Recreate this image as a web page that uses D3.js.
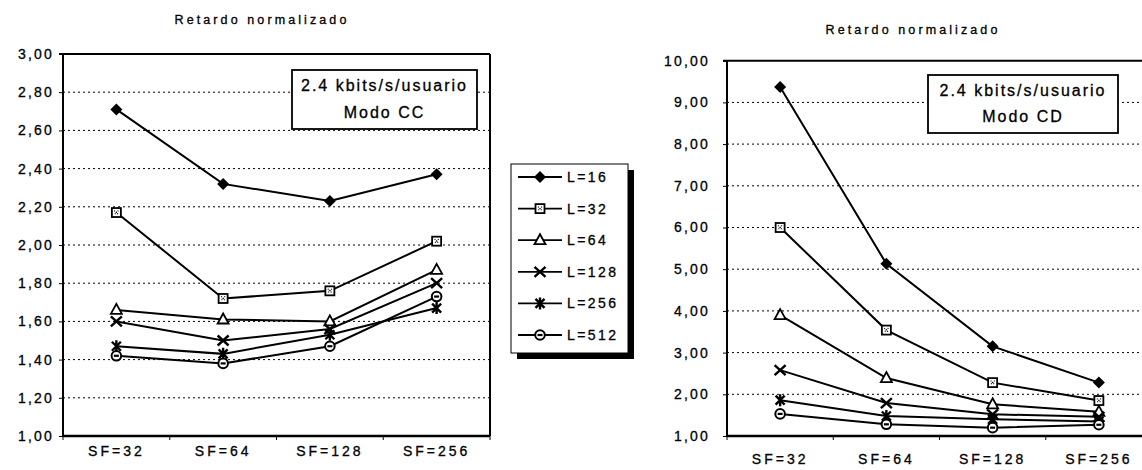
<!DOCTYPE html>
<html>
<head>
<meta charset="utf-8">
<script src="https://cdn.jsdelivr.net/npm/d3@7"></script>
<style>
  html, body { margin: 0; padding: 0; background: #fff; }
  svg { display: block; font-family: "Liberation Sans", Arial, sans-serif; }
  svg text { stroke: #000; stroke-width: 0.3px; fill: #000; }
</style>
</head>
<body>
<svg id="chart" width="1142" height="470"></svg>
<script>
// Spreading factor categories shared by both panels
const categories = ["SF=32", "SF=64", "SF=128", "SF=256"];
const seriesNames = ["L=16", "L=32", "L=64", "L=128", "L=256", "L=512"];
const markerKinds = ["diamond", "square", "triangle", "cross", "star", "circle"];

// Normalized delay, mode CC
const ccL16  = [2.71, 2.32, 2.23, 2.37];
const ccL32  = [2.17, 1.72, 1.76, 2.02];
const ccL64  = [1.66, 1.61, 1.60, 1.87];
const ccL128 = [1.60, 1.50, 1.56, 1.80];
const ccL256 = [1.47, 1.43, 1.53, 1.67];
const ccL512 = [1.42, 1.38, 1.47, 1.73];

// Normalized delay, mode CD
const cdL16  = [9.37, 5.13, 3.15, 2.28];
const cdL32  = [6.00, 3.54, 2.28, 1.85];
const cdL64  = [3.90, 2.39, 1.76, 1.58];
const cdL128 = [2.58, 1.79, 1.52, 1.46];
const cdL256 = [1.86, 1.48, 1.40, 1.35];
const cdL512 = [1.53, 1.28, 1.20, 1.27];

// Y tick values for each panel
const ccTicks = [1.0, 1.2, 1.4, 1.6, 1.8, 2.0, 2.2, 2.4, 2.6, 2.8, 3.0];
const cdTicks = [1, 2, 3, 4, 5, 6, 7, 8, 9, 10];

const titleText = "Retardo normalizado";
const rateText = "2.4 kbits/s/usuario";
const modeCC = "Modo CC";
const modeCD = "Modo CD";

const svg = d3.select("#chart");
const fmt = v => d3.format(".2f")(v).replace(".", ",");

function drawMarker(g, kind, cx, cy) {
  const m = g.append("g").attr("transform", `translate(${cx},${cy})`);
  if (kind === "diamond") {
    m.append("path").attr("d", "M0,-6L6,0L0,6L-6,0Z").attr("fill", "#000");
  } else if (kind === "square") {
    m.append("rect").attr("x", -4.5).attr("y", -4.5).attr("width", 9).attr("height", 9)
      .attr("fill", "#fff").attr("stroke", "#000").attr("stroke-width", 1.8);
    m.append("path").attr("d", "M-2,-2L2,2M2,-2L-2,2")
      .attr("stroke", "#000").attr("stroke-width", 1.1).attr("stroke-dasharray", "1,1");
  } else if (kind === "triangle") {
    m.append("path").attr("d", "M0,-6L5.5,4L-5.5,4Z")
      .attr("fill", "#fff").attr("stroke", "#000").attr("stroke-width", 1.8);
  } else if (kind === "cross") {
    m.append("path").attr("d", "M-5.5,-5L5.5,5M5.5,-5L-5.5,5")
      .attr("stroke", "#000").attr("stroke-width", 2.4);
  } else if (kind === "star") {
    m.append("path").attr("d", "M-4.5,-4.5L4.5,4.5M4.5,-4.5L-4.5,4.5M0,-6L0,6")
      .attr("stroke", "#000").attr("stroke-width", 2.4);
  } else if (kind === "circle") {
    m.append("circle").attr("r", 4.8)
      .attr("fill", "#fff").attr("stroke", "#000").attr("stroke-width", 2);
    m.append("path").attr("d", "M-2.5,0L2.5,0").attr("stroke", "#000").attr("stroke-width", 2.2);
  }
}

function drawPanel(opt) {
  const { left, right, top, bottom, domain, ticks, series } = opt;
  const g = svg.append("g");

  const x = d3.scaleBand().domain(categories).range([left, right]);
  const y = d3.scaleLinear().domain(domain).range([bottom, top]);

  // dotted grid
  g.append("g")
    .selectAll("line")
    .data(ticks.filter(t => t !== domain[0] && t !== domain[1]))
    .join("line")
    .attr("x1", left).attr("x2", right)
    .attr("y1", d => y(d)).attr("y2", d => y(d))
    .attr("stroke", "#000").attr("stroke-width", 1)
    .attr("stroke-dasharray", "2,3");

  // y axis with comma-decimal labels
  const yAxis = g.append("g")
    .attr("transform", `translate(${left},0)`)
    .call(d3.axisLeft(y).tickValues(ticks).tickSize(4).tickPadding(opt.labelPad).tickFormat(fmt));
  yAxis.select(".domain").remove();
  yAxis.selectAll(".tick line").attr("stroke", "#000").attr("stroke-width", 1);
  yAxis.selectAll(".tick text")
    .attr("font-size", 14).attr("fill", "#000")
    .attr("font-family", "Liberation Sans, Arial, sans-serif")
    .style("letter-spacing", "2.2px");

  // x axis labels
  const xAxis = g.append("g")
    .attr("transform", `translate(0,${bottom})`)
    .call(d3.axisBottom(x).tickSize(0).tickPadding(opt.xLabelPad));
  xAxis.select(".domain").remove();
  xAxis.selectAll(".tick text")
    .attr("font-size", 14).attr("fill", "#000")
    .attr("font-family", "Liberation Sans, Arial, sans-serif")
    .style("letter-spacing", "3px");

  // small ticks at category boundaries
  g.append("g").selectAll("line")
    .data(categories.map(c => x(c)).concat([x(categories[categories.length - 1]) + x.bandwidth()]))
    .join("line")
    .attr("x1", d => d).attr("x2", d => d)
    .attr("y1", bottom).attr("y2", bottom + 4)
    .attr("stroke", "#000").attr("stroke-width", 1);

  // plot frame
  g.append("line").attr("x1", left).attr("x2", left).attr("y1", top).attr("y2", bottom)
    .attr("stroke", "#000").attr("stroke-width", 2);
  g.append("line").attr("x1", left - 4).attr("x2", right).attr("y1", top).attr("y2", top)
    .attr("stroke", "#000").attr("stroke-width", 2);
  g.append("line").attr("x1", left).attr("x2", right).attr("y1", bottom).attr("y2", bottom)
    .attr("stroke", "#000").attr("stroke-width", 2.5);
  g.append("line").attr("x1", right).attr("x2", right).attr("y1", top).attr("y2", bottom)
    .attr("stroke", "#000").attr("stroke-width", 2);

  // title
  g.append("text").attr("x", opt.titleX).attr("y", opt.titleY)
    .attr("text-anchor", "middle").attr("font-size", 12.5)
    .style("letter-spacing", "3.1px").text(titleText);

  // series lines
  const line = d3.line().x((d, i) => x(categories[i]) + x.bandwidth() / 2).y(d => y(d));
  series.forEach(s => {
    g.append("path").datum(s).attr("d", line)
      .attr("fill", "none").attr("stroke", "#000").attr("stroke-width", 2);
  });
  // markers on top
  series.forEach((s, k) => {
    s.forEach((v, i) => drawMarker(g, markerKinds[k], x(categories[i]) + x.bandwidth() / 2, y(v)));
  });

  // info box
  const b = opt.box;
  g.append("rect").attr("x", b.x).attr("y", b.y).attr("width", b.w).attr("height", b.h)
    .attr("fill", "#fff").attr("stroke", "#000").attr("stroke-width", 1.8);
  g.append("text").attr("x", b.x + b.w / 2).attr("y", b.y + b.h * 0.27)
    .attr("text-anchor", "middle").attr("dominant-baseline", "central")
    .attr("font-size", 16).style("letter-spacing", "2px").text(rateText);
  g.append("text").attr("x", b.x + b.w / 2).attr("y", b.y + b.h * 0.72)
    .attr("text-anchor", "middle").attr("dominant-baseline", "central")
    .attr("font-size", 16).style("letter-spacing", "2px").text(opt.mode);
}

drawPanel({
  left: 63, right: 490, top: 54, bottom: 436, domain: [1, 3], ticks: ccTicks,
  series: [ccL16, ccL32, ccL64, ccL128, ccL256, ccL512],
  labelPad: 5, xLabelPad: 10, titleX: 262, titleY: 24,
  box: { x: 292, y: 70, w: 185, h: 59 }, mode: modeCC
});

drawPanel({
  left: 727, right: 1152, top: 60.7, bottom: 436, domain: [1, 10], ticks: cdTicks,
  series: [cdL16, cdL32, cdL64, cdL128, cdL256, cdL512],
  labelPad: 13, xLabelPad: 18, titleX: 913, titleY: 34,
  box: { x: 928, y: 75, w: 190, h: 58 }, mode: modeCD
});

// legend with drop shadow
const legend = svg.append("g");
const lg = { x: 511, y: 164, w: 117, h: 189 };
legend.append("rect").attr("x", lg.x + 6).attr("y", lg.y + 6).attr("width", lg.w).attr("height", lg.h)
  .attr("fill", "#000");
legend.append("rect").attr("x", lg.x).attr("y", lg.y).attr("width", lg.w).attr("height", lg.h)
  .attr("fill", "#fff").attr("stroke", "#000").attr("stroke-width", 1);
const ly = d3.scalePoint().domain(seriesNames).range([177, 335]);
seriesNames.forEach((name, k) => {
  const yy = ly(name);
  legend.append("line").attr("x1", 518).attr("x2", 562).attr("y1", yy).attr("y2", yy)
    .attr("stroke", "#000").attr("stroke-width", 1.8);
  drawMarker(legend, markerKinds[k], 540, yy);
  legend.append("text").attr("x", 567).attr("y", yy).attr("dominant-baseline", "central")
    .attr("font-size", 14).style("letter-spacing", "2.4px").text(name);
});
</script>
</body>
</html>
